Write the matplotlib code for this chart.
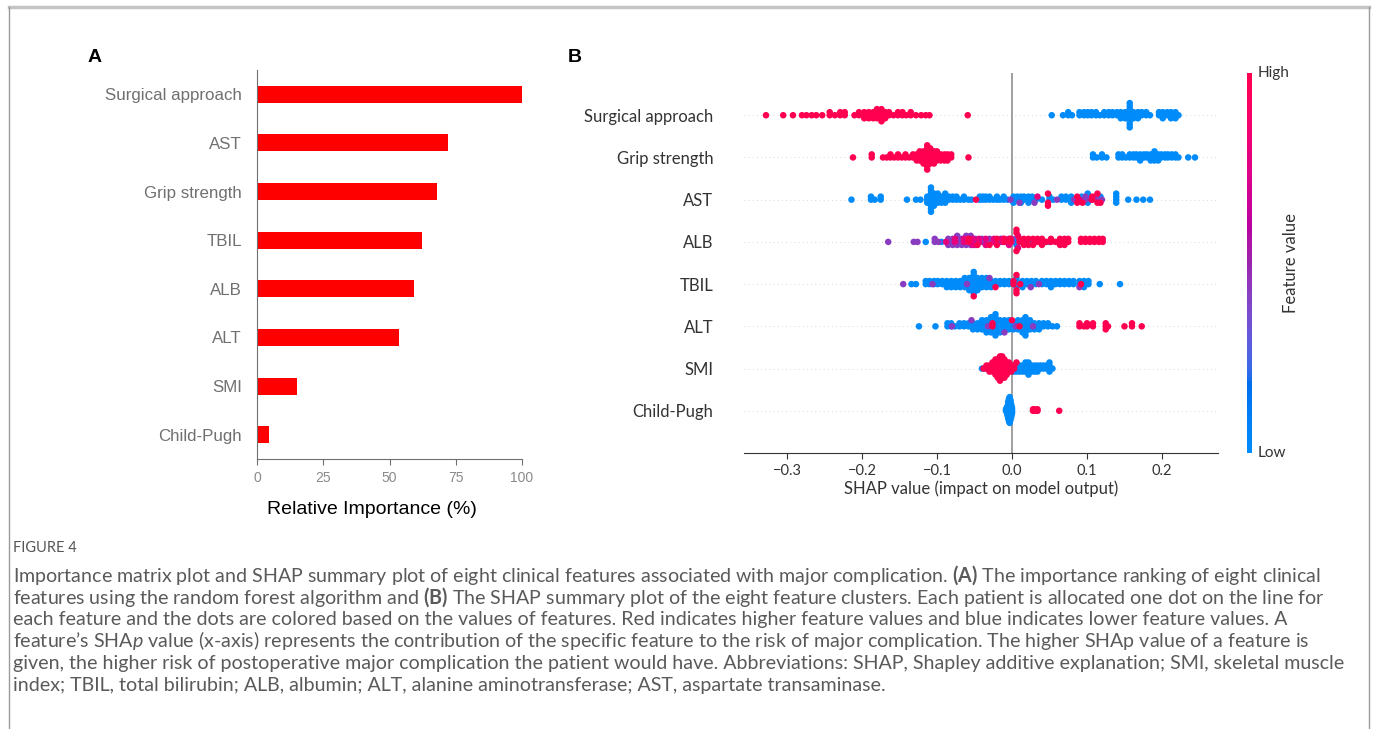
import numpy as np
import matplotlib
matplotlib.use("Agg")
import matplotlib.pyplot as plt
from matplotlib.colors import ListedColormap
from matplotlib.cm import ScalarMappable
from matplotlib.lines import Line2D

plt.rcParams["mathtext.fontset"] = "custom"
plt.rcParams["mathtext.rm"] = "Lato"
plt.rcParams["mathtext.bf"] = "Lato:bold"
plt.rcParams["mathtext.it"] = "Lato:italic"

# ---------------- panel A: random forest importance ----------------
rf_features = ["Surgical approach", "AST", "Grip strength", "TBIL", "ALB", "ALT", "SMI", "Child-Pugh"]
rf_importance = [100, 72.0, 68.0, 62.3, 59.4, 53.4, 15.1, 4.7]
rf_ticks = [0, 25, 50, 75, 100]

# ---------------- panel B: SHAP summary ----------------
shap_features = ["Surgical approach", "Grip strength", "AST", "ALB", "TBIL", "ALT", "SMI", "Child-Pugh"]
shap_ticks = [-0.3, -0.2, -0.1, 0.0, 0.1, 0.2]

# (shap value, number of dots piled there), grouped by feature-value colour
surg_high = [(-0.328, 1), (-0.305, 1), (-0.292, 1), (-0.280, 1), (-0.274, 1), (-0.267, 1), (-0.261, 1),
             (-0.253, 1), (-0.243, 2), (-0.236, 1), (-0.229, 2), (-0.223, 2), (-0.210, 1), (-0.204, 2),
             (-0.197, 3), (-0.191, 3), (-0.185, 3), (-0.180, 4), (-0.174, 5), (-0.169, 3), (-0.164, 2),
             (-0.158, 1), (-0.152, 2), (-0.146, 2), (-0.141, 1), (-0.135, 2), (-0.128, 1), (-0.121, 1),
             (-0.115, 1), (-0.110, 1), (-0.059, 1)]
surg_low = [(0.053, 1), (0.068, 1), (0.075, 2), (0.080, 1), (0.090, 2), (0.096, 2), (0.101, 2), (0.106, 2),
            (0.112, 2), (0.117, 1), (0.123, 2), (0.129, 2), (0.134, 2), (0.140, 2), (0.145, 3), (0.151, 3),
            (0.157, 9), (0.162, 3), (0.168, 3), (0.173, 2), (0.179, 2), (0.184, 1), (0.196, 2), (0.201, 3),
            (0.207, 2), (0.212, 3), (0.218, 3), (0.222, 1)]

grip_high = [(-0.212, 1), (-0.187, 2), (-0.172, 1), (-0.167, 1), (-0.162, 2), (-0.157, 1), (-0.152, 2),
             (-0.147, 1), (-0.142, 2), (-0.137, 1), (-0.132, 2), (-0.127, 3), (-0.123, 4), (-0.118, 5),
             (-0.113, 9), (-0.109, 6), (-0.104, 5), (-0.100, 4), (-0.095, 3), (-0.090, 3), (-0.086, 3),
             (-0.081, 2), (-0.058, 1)]
grip_low = [(0.108, 2), (0.113, 1), (0.120, 2), (0.126, 1), (0.142, 2), (0.147, 2), (0.152, 1), (0.157, 2),
            (0.162, 2), (0.166, 2), (0.171, 3), (0.176, 2), (0.180, 2), (0.185, 3), (0.190, 4), (0.195, 3),
            (0.199, 2), (0.204, 2), (0.208, 2), (0.213, 2), (0.218, 2), (0.222, 1), (0.235, 1), (0.244, 1)]

ast_low = [(-0.214, 1), (-0.188, 2), (-0.183, 1), (-0.175, 2), (-0.140, 1), (-0.128, 1), (-0.122, 1),
           (-0.113, 3), (-0.108, 9), (-0.104, 5), (-0.099, 4), (-0.094, 3), (-0.089, 4), (-0.084, 2),
           (-0.079, 2), (-0.074, 2), (-0.069, 1), (-0.064, 2), (-0.058, 1), (-0.054, 1), (-0.043, 2),
           (-0.039, 2), (-0.035, 2), (-0.030, 2), (-0.025, 1), (-0.020, 2), (-0.016, 1), (-0.011, 2),
           (-0.006, 1), (0.002, 3), (0.007, 2), (0.012, 3), (0.016, 2), (0.022, 3), (0.027, 2), (0.032, 1),
           (0.040, 1), (0.050, 2), (0.055, 1), (0.066, 2), (0.072, 2), (0.079, 3), (0.093, 2), (0.101, 4),
           (0.118, 2), (0.139, 4), (0.155, 1), (0.166, 1), (0.175, 1), (0.184, 1)]
ast_mid = [(-0.002, 1), (0.010, 1), (0.030, 1), (0.060, 1), (0.083, 1), (0.098, 2), (0.112, 2), (0.120, 1)]
ast_pink = [(0.034, 1), (0.090, 1), (0.106, 1)]
ast_high = [(-0.048, 1), (0.048, 3), (0.087, 2), (0.094, 1), (0.107, 2), (0.114, 2), (0.118, 1)]

alb_low = [(-0.115, 1), (-0.094, 1), (-0.070, 1), (-0.052, 1), (-0.036, 1), (-0.018, 1), (-0.006, 1),
           (0.006, 3), (0.014, 1), (0.026, 1), (0.044, 1), (0.050, 1)]
alb_mid = [(-0.165, 1), (-0.131, 1), (-0.126, 1), (-0.103, 2), (-0.098, 1), (-0.085, 3), (-0.079, 3),
           (-0.073, 4), (-0.067, 3), (-0.061, 4), (-0.055, 4), (-0.049, 3), (-0.040, 2), (-0.030, 2),
           (-0.015, 2), (0.000, 2), (0.012, 1), (0.030, 1)]
alb_pink = [(-0.088, 1), (-0.076, 2), (-0.064, 2), (-0.052, 2), (-0.044, 2), (-0.035, 2), (-0.024, 2),
            (-0.012, 2), (-0.004, 2), (0.008, 2), (0.020, 1), (0.040, 1)]
alb_high = [(-0.058, 2), (-0.046, 1), (-0.030, 1), (-0.020, 2), (-0.010, 2), (-0.002, 2), (0.006, 3),
            (0.010, 2), (0.016, 2), (0.022, 2), (0.028, 2), (0.034, 2), (0.040, 2), (0.046, 1), (0.052, 2),
            (0.058, 1), (0.064, 3), (0.070, 3), (0.075, 2), (0.092, 2), (0.098, 2), (0.104, 2), (0.110, 2),
            (0.116, 2), (0.121, 2)]

tbil_low = [(-0.134, 1), (-0.128, 1), (-0.115, 2), (-0.110, 2), (-0.104, 2), (-0.099, 2), (-0.093, 2),
            (-0.087, 3), (-0.081, 3), (-0.075, 3), (-0.069, 3), (-0.063, 4), (-0.057, 5), (-0.051, 8),
            (-0.046, 5), (-0.040, 4), (-0.034, 4), (-0.028, 3), (-0.022, 2), (-0.016, 2), (-0.010, 2),
            (-0.004, 2), (0.006, 4), (0.014, 3), (0.020, 2), (0.026, 2), (0.032, 2), (0.040, 2), (0.046, 2),
            (0.052, 3), (0.058, 2), (0.064, 2), (0.070, 2), (0.076, 2), (0.082, 2), (0.090, 2), (0.096, 3),
            (0.102, 2), (0.117, 1), (0.144, 1)]
tbil_mid = [(-0.145, 1), (-0.106, 1), (-0.060, 1), (-0.030, 1), (0.025, 1), (0.036, 1), (0.090, 1)]
tbil_high = [(-0.051, 1), (-0.022, 1), (0.002, 2), (0.006, 3), (0.011, 1), (0.092, 1)]

alt_low = [(-0.124, 1), (-0.102, 1), (-0.086, 2), (-0.081, 2), (-0.076, 1), (-0.070, 2), (-0.064, 2),
           (-0.058, 2), (-0.052, 3), (-0.046, 3), (-0.040, 4), (-0.034, 5), (-0.028, 6), (-0.022, 8),
           (-0.016, 5), (-0.010, 4), (-0.004, 4), (0.002, 3), (0.008, 4), (0.014, 5), (0.018, 7), (0.024, 4),
           (0.030, 3), (0.036, 3), (0.042, 2), (0.048, 2), (0.054, 1), (0.060, 1)]
alt_mid = [(-0.080, 1), (-0.054, 1), (-0.032, 1), (-0.010, 1), (0.005, 1), (0.028, 1)]
alt_high = [(-0.026, 2), (0.000, 1), (0.010, 1), (0.090, 2), (0.096, 1), (0.100, 2), (0.108, 2), (0.125, 3),
            (0.128, 1), (0.150, 1), (0.160, 2), (0.173, 1)]

smi_low = [(-0.040, 1), (-0.036, 1), (-0.002, 2), (0.002, 3), (0.006, 3), (0.010, 3), (0.014, 3), (0.018, 4),
           (0.022, 5), (0.026, 3), (0.030, 3), (0.034, 3), (0.038, 2), (0.042, 2), (0.046, 2), (0.050, 4),
           (0.054, 1)]
smi_high = [(-0.038, 1), (-0.034, 2), (-0.030, 3), (-0.026, 4), (-0.022, 6), (-0.019, 7), (-0.016, 9),
            (-0.013, 8), (-0.010, 7), (-0.007, 5), (-0.004, 4), (-0.001, 3), (0.003, 2), (0.006, 1)]

cp_low = [(-0.008, 2), (-0.007, 4), (-0.006, 7), (-0.005, 12), (-0.004, 16), (-0.003, 18), (-0.002, 14),
          (-0.001, 9), (0.000, 5)]
cp_high = [(0.028, 2), (0.030, 2), (0.032, 1), (0.034, 2), (0.063, 1)]

LOW, MID, PINK, HIGH = 0.0, 0.42, 0.78, 1.0
shap_rows = [
    [(surg_low, LOW), (surg_high, HIGH)],
    [(grip_low, LOW), (grip_high, HIGH)],
    [(ast_low, LOW), (ast_mid, MID), (ast_pink, PINK), (ast_high, HIGH)],
    [(alb_low, LOW), (alb_mid, MID), (alb_pink, PINK), (alb_high, HIGH)],
    [(tbil_low, LOW), (tbil_mid, MID), (tbil_high, HIGH)],
    [(alt_low, LOW), (alt_mid, MID), (alt_high, HIGH)],
    [(smi_low, LOW), (smi_high, HIGH)],
    [(cp_low, LOW), (cp_high, HIGH)],
]

caption_lines = [
    r"Importance matrix plot and SHAP summary plot of eight clinical features associated with major complication. $\mathbf{(A)}$ The importance ranking of eight clinical",
    r"features using the random forest algorithm and $\mathbf{(B)}$ The SHAP summary plot of the eight feature clusters. Each patient is allocated one dot on the line for",
    "each feature and the dots are colored based on the values of features. Red indicates higher feature values and blue indicates lower feature values. A",
    "feature\u2019s SHA$\\mathit{p}$ value (x-axis) represents the contribution of the specific feature to the risk of major complication. The higher SHAp value of a feature is",
    "given, the higher risk of postoperative major complication the patient would have. Abbreviations: SHAP, Shapley additive explanation; SMI, skeletal muscle",
    "index; TBIL, total bilirubin; ALB, albumin; ALT, alanine aminotransferase; AST, aspartate transaminase.",
]


def lch_to_rgb(L, C, h):
    a, b = C * np.cos(h), C * np.sin(h)
    fy = (L + 16) / 116
    fx, fz = fy + a / 500, fy - b / 200

    def finv(t):
        return np.where(t ** 3 > 0.008856, t ** 3, (t - 16 / 116) / 7.787)

    X, Y, Z = 0.95047 * finv(fx), finv(fy), 1.08883 * finv(fz)
    rgb = np.stack([3.2406 * X - 1.5372 * Y - 0.4986 * Z,
                    -0.9689 * X + 1.8758 * Y + 0.0415 * Z,
                    0.0557 * X - 0.2040 * Y + 1.0570 * Z], axis=-1)
    rgb = np.where(rgb > 0.0031308, 1.055 * np.abs(rgb) ** (1 / 2.4) - 0.055, 12.92 * rgb)
    return np.clip(rgb, 0, 1)


# shap's red_blue map: blue -> purple -> red in Lch space
nsteps = 100
l_vals = np.r_[np.linspace(54, 40, nsteps // 2), np.linspace(40, 54, nsteps // 2)]
c_vals = np.linspace(70, 90, nsteps)
h_vals = np.linspace(4.6588, 0.35470565 + 2 * np.pi, nsteps)
red_blue = ListedColormap(lch_to_rgb(l_vals, c_vals, h_vals))


def swarm(x, row_height=0.4, nbins=100):
    quant = np.round(nbins * (x - x.min()) / (x.max() - x.min() + 1e-8))
    order = np.argsort(quant, kind="stable")
    ys = np.zeros(len(x))
    layer, last = 0, None
    for i in order:
        if quant[i] != last:
            layer = 0
        ys[i] = np.ceil(layer / 2) * ((layer % 2) * 2 - 1)
        layer += 1
        last = quant[i]
    return ys * 0.9 * (row_height / np.max(ys + 1))


W, H = 1375, 729
fig = plt.figure(figsize=(W / 100, H / 100), dpi=100)


def px_axes(left, top, right, bottom):
    return fig.add_axes([left / W, 1 - bottom / H, (right - left) / W, (bottom - top) / H])


# frame round the figure
frame = dict(transform=None, color="#9a9a9a", lw=1)
fig.add_artist(Line2D([9, 1369], [H - 7, H - 7], transform=None, color="#c4c4c4", lw=2.5))
fig.add_artist(Line2D([9, 9], [H - 7, 0], **frame))
fig.add_artist(Line2D([1369, 1369], [H - 7, 0], **frame))

# ---- A ----
axA = px_axes(257, 70, 522, 459)
axA.barh(range(len(rf_features)), rf_importance, height=0.35, color="#ff0000")
axA.set_xlim(0, 100)
axA.set_ylim(len(rf_features) - 0.5, -0.5)
axA.set_yticks(range(len(rf_features)))
axA.set_yticklabels(rf_features, fontsize=12.2, color="#707070", family="Liberation Sans")
axA.set_xticks(rf_ticks)
axA.set_xticklabels([str(t) for t in rf_ticks], fontsize=10, color="#8a8a8a", family="Liberation Sans")
axA.tick_params(axis="y", length=0, pad=11)
axA.tick_params(axis="x", length=4, color="#707070", pad=5)
for s in ["top", "right"]:
    axA.spines[s].set_visible(False)
for s in ["left", "bottom"]:
    axA.spines[s].set_color("#707070")
fig.text(372 / W, 1 - 509 / H, "Relative Importance (%)", ha="center", va="center",
         fontsize=14, family="Liberation Sans", color="black")
fig.text(95 / W, 1 - 57 / H, "A", ha="center", va="center", fontsize=14, fontweight="bold",
         family="Liberation Sans")

# ---- B ----
axB = px_axes(744, 73, 1218, 453)
n = len(shap_features)
for i, groups in enumerate(shap_rows):
    pos = n - 1 - i
    xs = np.concatenate([np.repeat([p[0] for p in g], [p[1] for p in g]) for g, _ in groups])
    cs = np.concatenate([np.full(sum(p[1] for p in g), lvl) for g, lvl in groups])
    ys = swarm(xs)
    axB.axhline(pos, color="#cccccc", lw=0.6, dashes=(1, 4), zorder=-1)
    axB.scatter(xs, pos + ys, c=cs, cmap=red_blue, vmin=0, vmax=1, s=22, linewidth=0, zorder=3)
axB.axvline(0, color="#999999", lw=1.3, zorder=-1)
axB.set_xlim(-0.3573, 0.2747)
axB.set_ylim(-1, n)
axB.set_yticks(range(n))
axB.set_yticklabels(shap_features[::-1], fontsize=12, color="#333333", family="Lato")
axB.set_xticks(shap_ticks)
axB.set_xticklabels(["\u2212%.1f" % -t if t < 0 else "%.1f" % t for t in shap_ticks],
                    fontsize=10.5, color="#333333", family="Lato")
axB.tick_params(axis="y", length=0, pad=22)
axB.tick_params(axis="x", length=4, color="#333333", pad=4)
for s in ["top", "right", "left"]:
    axB.spines[s].set_visible(False)
axB.spines["bottom"].set_color("#333333")
axB.set_xlabel("SHAP value (impact on model output)", fontsize=12, family="Lato", color="#333333", labelpad=2)
fig.text(575 / W, 1 - 57 / H, "B", ha="center", va="center", fontsize=14, fontweight="bold",
         family="Liberation Sans")

cax = px_axes(1247, 73, 1252, 453)
cb = fig.colorbar(ScalarMappable(cmap=red_blue), cax=cax)
cb.outline.set_visible(False)
cb.set_ticks([])
fig.text(1258 / W, 1 - 73 / H, "High", ha="left", va="center", fontsize=11, family="Lato", color="#333333")
fig.text(1258 / W, 1 - 453 / H, "Low", ha="left", va="center", fontsize=11, family="Lato", color="#333333")
fig.text(1291 / W, 1 - 263 / H, "Feature value", ha="center", va="center", rotation=90,
         fontsize=12, family="Lato", color="#333333")

# ---- caption ----
fig.text(13 / W, 1 - 548 / H, "FIGURE 4", ha="left", va="center", fontsize=10.5, family="Lato",
         color="#555555")
for k, line in enumerate(caption_lines):
    fig.text(13 / W, 1 - (575 + 22 * k) / H, line, ha="left", va="center", fontsize=14.1,
             family="Lato", color="#5a5a5a")

fig.savefig("out.png", dpi=100)
